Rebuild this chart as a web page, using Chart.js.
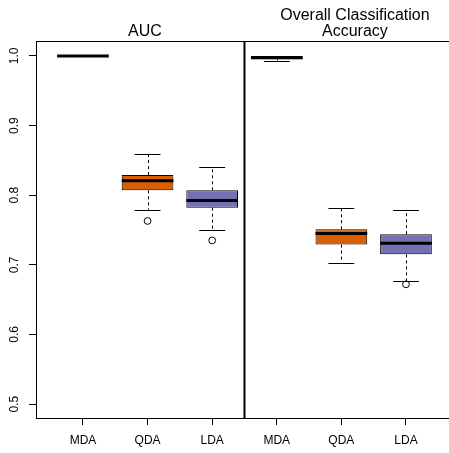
<!DOCTYPE html>
<html><head><meta charset="utf-8">
<script src="https://cdn.jsdelivr.net/npm/chart.js@4/dist/chart.umd.min.js"></script>
<style>html,body{margin:0;padding:0;background:#fff;overflow:hidden}</style>
</head><body><canvas id="c" width="449" height="453"></canvas>
<script>
const categories = ['MDA', 'QDA', 'LDA', 'MDA', 'QDA', 'LDA'];
const panelTitles = [['AUC'], ['Overall Classification', 'Accuracy']];
const lowerWhisker = [1.0, 0.779, 0.750, 0.9932, 0.703, 0.677];
const q1 = [1.0, 0.807, 0.782, 0.9952, 0.729, 0.715];
const median = [1.0, 0.8206, 0.7925, 0.9975, 0.745, 0.731];
const q3 = [1.0, 0.829, 0.807, 1.0, 0.751, 0.744];
const upperWhisker = [1.0, 0.859, 0.841, 1.0, 0.781, 0.779];
const outlierGroup = [2, 3, 6];
const outlierValue = [0.763, 0.735, 0.672];
const boxColors = ['#1B9E77', '#D95F02', '#7570B3', '#1B9E77', '#D95F02', '#7570B3'];
const yTicks = [0.5, 0.6, 0.7, 0.8, 0.9, 1.0];

const positions = categories.map((_, i) => i + 1);
const FONT = "'Liberation Sans', Arial, Helvetica, sans-serif";
Chart.defaults.font.family = FONT;
Chart.defaults.color = '#000';

const boxPlugin = {
  id: 'boxParts',
  beforeDatasetsDraw(chart) {
    const ctx = chart.ctx, ys = chart.scales.y;
    const bars = chart.getDatasetMeta(0).data;
    ctx.save();
    ctx.strokeStyle = '#000';
    ctx.lineWidth = 1;
    bars.forEach((bar, i) => {
      const cx = Math.round(bar.x) + 0.5;
      const half = bar.width / 4;
      ctx.setLineDash([3, 3]);
      ctx.beginPath();
      ctx.moveTo(cx, ys.getPixelForValue(q3[i]));
      ctx.lineTo(cx, ys.getPixelForValue(upperWhisker[i]));
      ctx.moveTo(cx, ys.getPixelForValue(q1[i]));
      ctx.lineTo(cx, ys.getPixelForValue(lowerWhisker[i]));
      ctx.stroke();
      ctx.setLineDash([]);
      ctx.beginPath();
      const yu = Math.round(ys.getPixelForValue(upperWhisker[i])) + 0.5;
      const yl = Math.round(ys.getPixelForValue(lowerWhisker[i])) + 0.5;
      ctx.moveTo(bar.x - half, yu); ctx.lineTo(bar.x + half, yu);
      ctx.moveTo(bar.x - half, yl); ctx.lineTo(bar.x + half, yl);
      ctx.stroke();
    });
    ctx.restore();
  },
  afterDatasetsDraw(chart) {
    const ctx = chart.ctx, ys = chart.scales.y, xs = chart.scales.x, ca = chart.chartArea;
    const bars = chart.getDatasetMeta(0).data;
    ctx.save();
    ctx.strokeStyle = '#000';
    ctx.lineWidth = 3;
    bars.forEach((bar, i) => {
      const y = ys.getPixelForValue(median[i]);
      ctx.beginPath();
      ctx.moveTo(bar.x - bar.width / 2, y);
      ctx.lineTo(bar.x + bar.width / 2, y);
      ctx.stroke();
    });
    const dx = xs.getPixelForValue(3.5);
    ctx.lineWidth = 2;
    ctx.beginPath();
    ctx.moveTo(dx, ca.top); ctx.lineTo(dx, ca.bottom);
    ctx.stroke();
    ctx.lineWidth = 1;
    ctx.beginPath();
    ctx.moveTo(ca.left, Math.round(ca.top) - 0.5);
    ctx.lineTo(ca.right, Math.round(ca.top) - 0.5);
    ctx.stroke();
    ctx.fillStyle = '#000';
    ctx.font = '12px ' + FONT;
    ctx.textAlign = 'center';
    ctx.textBaseline = 'middle';
    yTicks.forEach(v => {
      ctx.save();
      ctx.translate(15, ys.getPixelForValue(v));
      ctx.rotate(-Math.PI / 2);
      ctx.fillText(v.toFixed(1), 0, 0);
      ctx.restore();
    });
    ctx.font = '16px ' + FONT;
    ctx.textBaseline = 'alphabetic';
    const titleX = [xs.getPixelForValue(1.96), xs.getPixelForValue(5.21)];
    panelTitles.forEach((lines, p) => {
      const n = lines.length;
      lines.forEach((t, k) => {
        ctx.fillText(t, titleX[p], 36 - (n - 1 - k) * 16);
      });
    });
    ctx.restore();
  }
};

new Chart(document.getElementById('c'), {
  type: 'bar',
  data: {
    datasets: [
      {
        type: 'bar',
        data: positions.map((x, i) => ({ x: x, y: [q1[i], q3[i]] })),
        backgroundColor: boxColors,
        borderColor: '#000',
        borderWidth: 1,
        borderSkipped: false,
        barPercentage: 0.8,
        categoryPercentage: 1,
        order: 2
      },
      {
        type: 'scatter',
        data: outlierGroup.map((g, i) => ({ x: g, y: outlierValue[i] })),
        pointStyle: 'circle',
        pointRadius: 3.4,
        backgroundColor: 'rgba(255,255,255,0)',
        borderColor: '#000',
        borderWidth: 1,
        order: 1
      }
    ]
  },
  options: {
    responsive: false,
    animation: false,
    devicePixelRatio: 1,
    layout: { autoPadding: false, padding: { left: 29, top: 42, right: 0, bottom: -2.4 } },
    plugins: { legend: { display: false }, tooltip: { enabled: false } },
    scales: {
      x: {
        type: 'linear', min: 0.273, max: 6.666, offset: false,
        afterBuildTicks: ax => { ax.ticks = positions.map(v => ({ value: v })); },
        ticks: { callback: v => categories[v - 1], font: { size: 12 }, color: '#000', padding: 8, maxRotation: 0, autoSkip: false },
        grid: { offset: false, drawOnChartArea: false, drawTicks: true, tickLength: 7, color: '#000' },
        border: { color: '#000', width: 1 }
      },
      y: {
        min: 0.48, max: 1.02,
        afterBuildTicks: ax => { ax.ticks = yTicks.map(v => ({ value: v })); },
        ticks: { display: false },
        grid: { drawOnChartArea: false, drawTicks: true, tickLength: 7, color: '#000' },
        border: { color: '#000', width: 1 }
      }
    }
  },
  plugins: [boxPlugin]
});
</script>
</body></html>
